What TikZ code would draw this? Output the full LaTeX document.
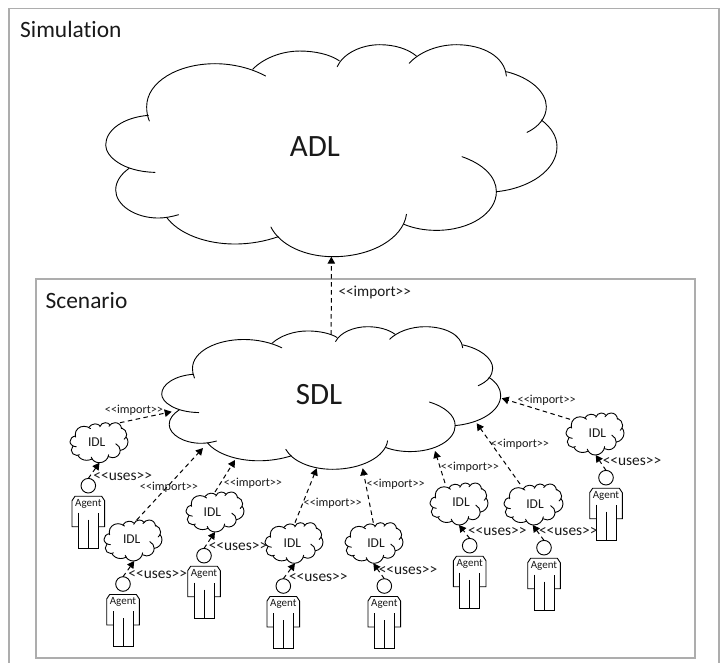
\documentclass[tikz,border=0pt]{standalone}
\usepackage{fontspec}
\setmainfont{Carlito}[Ligatures=NoCommon]
\usetikzlibrary{arrows.meta}
\newcommand\impl{<{}<import>{}>}
\newcommand\usel{<{}<uses>{}>}
\tikzset{
  frame/.style={draw=black!32,line width=1.2pt},
  lobe/.style={draw=black,line width=0.9pt,line cap=round},
  cloudbox/.style={inner sep=0pt,outer sep=0pt},
  cloudtxt/.style={inner sep=0pt,text=black!90},
  dep/.style={draw=black,line width=1pt,dash pattern=on 4.5pt off 3.5pt,-{Triangle[length=7pt,width=7.5pt]}},
  headc/.style={circle,draw=black,line width=0.9pt,minimum size=14.6pt,inner sep=0pt,outer sep=0pt},
  person/.style={draw=black,line width=0.9pt},
  agenttxt/.style={font=\fontsize{11pt}{12pt}\selectfont,inner sep=0pt,text=black!90},
  implab/.style={font=\fontsize{12.2pt}{13pt}\selectfont,inner sep=0pt,text=black!90},
  implabbig/.style={font=\fontsize{15.2pt}{16pt}\selectfont,inner sep=0pt,text=black!90},
  uselab/.style={font=\fontsize{15.4pt}{16pt}\selectfont,inner sep=0pt,text=black!90},
  title/.style={font=\fontsize{23.4pt}{26pt}\selectfont,inner sep=0pt,text=black!90,anchor=west},
}
% #1 node name, #2 left, #3 top, #4 width, #5 height, #6 text, #7 font size, #8 #9 text centre
\newcommand\cloudfig[9]{%
  \begin{scope}[shift={(#2pt,-#3pt)},x=#4/1355*1pt,y=-#5/636*1pt]
    \begin{scope}[shift={(-17,-14)}]
    \draw[lobe] (165,397) .. controls (70,395) and (17,350) .. (17,315) .. controls (17,270) and (70,232) .. (145,226);
    \draw[lobe] (148,243) .. controls (142,228) and (140,215) .. (140,200) .. controls (140,125) and (235,71) .. (345,71) .. controls (400,71) and (455,85) .. (497,108);
    \draw[lobe] (458,88) .. controls (490,55) and (545,33) .. (600,33) .. controls (645,33) and (690,43) .. (718,62);
    \draw[lobe] (712,80) .. controls (730,40) and (785,14) .. (840,14) .. controls (885,14) and (925,27) .. (950,48);
    \draw[lobe] (928,70) .. controls (960,35) and (1015,14) .. (1070,14) .. controls (1150,14) and (1215,50) .. (1220,108);
    \draw[lobe] (1220,95) .. controls (1290,112) and (1340,155) .. (1340,200) .. controls (1340,232) and (1318,260) .. (1282,277);
    \draw[lobe] (1325,240) .. controls (1355,262) and (1372,290) .. (1372,320) .. controls (1372,390) and (1290,445) .. (1190,455);
    \draw[lobe] (1087,350) .. controls (1150,372) and (1190,410) .. (1190,455) .. controls (1190,520) and (1110,571) .. (1010,571) .. controls (975,571) and (942,565) .. (913,553);
    \draw[lobe] (920,523) .. controls (910,595) and (815,650) .. (700,650) .. controls (615,650) and (540,615) .. (513,561);
    \draw[lobe] (535,590) .. controls (495,604) and (450,612) .. (405,612) .. controls (315,612) and (235,580) .. (200,532);
    \draw[lobe] (236,524) .. controls (215,530) and (195,534) .. (175,534) .. controls (105,534) and (47,495) .. (47,450) .. controls (47,425) and (62,403) .. (87,385);
    \end{scope}
  \end{scope}
  \node[cloudbox,minimum width=#4pt,minimum height=#5pt] (#1) at ({#2+#4/2},{#3+#5/2}) {};
  \node[cloudtxt,font=\fontsize{#7}{#7}\selectfont] (#1t) at (#8,#9) {#6};%
}
% #1 name, #2 head x, #3 head y
\newcommand\agentfig[3]{%
  \node[headc] (#1) at (#2,#3) {};
  \begin{scope}[shift={(#2pt,-#3pt)}]
    \draw[person] (-10,41) -- (-16.3,41) -- (-16.3,15) -- (-13.3,10.5) -- (13.3,10.5) -- (16.3,15) -- (16.3,41) -- (10,41);
    \draw[person] (-10,27) -- (-10,62.6) -- (10,62.6) -- (10,27);
    \draw[person] (0,34) -- (0,62.6);
    \node[agenttxt] (#1t) at (0,18.2) {Agent};
  \end{scope}
}
\begin{document}
\begin{tikzpicture}[x=1pt,y=-1pt]
\useasboundingbox (0,0) rectangle (725,663);
% frames
\coordinate (simbl) at (9,663);
\coordinate (simtl) at (9,8.5);
\coordinate (simtr) at (719,8.5);
\coordinate (simbr) at (719,663);
\draw[frame] (simbl) -- (simtl) -- (simtr) -- (simbr);
\node[title] (simtitle) at (20,29) {Simulation};
\node[frame,minimum width=659pt,minimum height=379pt,inner sep=0pt] (scen) at (365.5,468.5) {};
\node[title] (scentitle) at (45.5,301) {Scenario};
% clouds
\cloudfig{adl}{105.7}{44.7}{451.3}{212}{ADL}{31pt}{315}{146.5}
\cloudfig{sdl}{161.7}{326.7}{339}{142.6}{SDL}{31pt}{319}{395}
\cloudfig{i1}{70}{422.7}{58}{40}{IDL}{13.5pt}{96.7}{441.7}
\cloudfig{i2}{104}{520}{58}{41}{IDL}{13.5pt}{131.7}{539.3}
\cloudfig{i3}{186}{492}{58}{40}{IDL}{13.5pt}{212.3}{511.7}
\cloudfig{i4}{265}{522.7}{58}{40.6}{IDL}{13.5pt}{292.3}{542.7}
\cloudfig{i5}{345}{522.7}{58}{40.6}{IDL}{13.5pt}{376}{542.7}
\cloudfig{i6}{430}{483}{58}{42}{IDL}{13.5pt}{461}{501.7}
\cloudfig{i7}{504}{484}{59}{41}{IDL}{13.5pt}{535}{504}
\cloudfig{i8}{566}{413}{58}{42}{IDL}{13.5pt}{597.3}{433.3}
% agents
\agentfig{a1}{88.3}{485.7}
\agentfig{a2}{123}{584}
\agentfig{a3}{204}{555.7}
\agentfig{a4}{283.3}{586}
\agentfig{a5}{384.3}{586}
\agentfig{a6}{469.7}{545.7}
\agentfig{a7}{544}{547.7}
\agentfig{a8}{606}{477.7}
% points on the SDL outline
\coordinate (s1) at (171.7,411.7);
\coordinate (s2) at (203,448);
\coordinate (s3) at (235,460);
\coordinate (s4) at (316.7,468.3);
\coordinate (s5) at (362.7,468.3);
\coordinate (s6) at (435,451);
\coordinate (s7) at (476.7,423.3);
\coordinate (s8) at (501.7,398.3);
% import connectors
\draw[dep] ([yshift=-8pt]sdl.north) -- (adl.south);
\draw[dep] ([xshift=21pt]i1.north) -- (s1);
\draw[dep] ([xshift=3.7pt]i2.north) -- (s2);
\draw[dep] (i3.north) -- (s3);
\draw[dep] ([xshift=1pt]i4.north) -- (s4);
\draw[dep] ([xshift=-0.7pt]i5.north) -- (s5);
\draw[dep] ([xshift=-14pt]i6.north) -- (s6);
\draw[dep] ([xshift=-13.5pt]i7.north) -- (s7);
\draw[dep] ([xshift=4pt,yshift=-6.3pt]i8.north west) -- (s8);
% uses connectors
\draw[dep] (a1.north) -- ([xshift=0.5pt]i1.south);
\draw[dep] (a2.north) -- ([xshift=1.3pt]i2.south);
\draw[dep] (a3.north) -- (i3.south);
\draw[dep] (a4.north) -- ([xshift=1pt]i4.south);
\draw[dep] (a5.north) -- ([xshift=-0.7pt]i5.south);
\draw[dep] (a6.north) -- (i6.south);
\draw[dep] (a7.north) -- ([xshift=-0.8pt]i7.south);
\draw[dep] (a8.north) -- ([xshift=0.7pt]i8.south);
% labels
\node[implabbig] (l0) at (374.7,292.7) {\impl};
\node[implab] (l1) at (134,410.7) {\impl};
\node[implab] (l2) at (169,487) {\impl};
\node[implab] (l3) at (253,483) {\impl};
\node[implab] (l4) at (332.7,503.3) {\impl};
\node[implab] (l5) at (395.7,484.3) {\impl};
\node[implab] (l6) at (470,467.7) {\impl};
\node[implab] (l7) at (520,444) {\impl};
\node[implab] (l8) at (546.7,400.3) {\impl};
\node[uselab] (u1) at (122.7,476.7) {\usel};
\node[uselab] (u2) at (157.7,575) {\usel};
\node[uselab] (u3) at (238,546.7) {\usel};
\node[uselab] (u4) at (318.3,577.7) {\usel};
\node[uselab] (u5) at (408,570.7) {\usel};
\node[uselab] (u6) at (497.3,531.7) {\usel};
\node[uselab] (u7) at (568.3,531.7) {\usel};
\node[uselab] (u8) at (632,461.7) {\usel};
\end{tikzpicture}
\end{document}
